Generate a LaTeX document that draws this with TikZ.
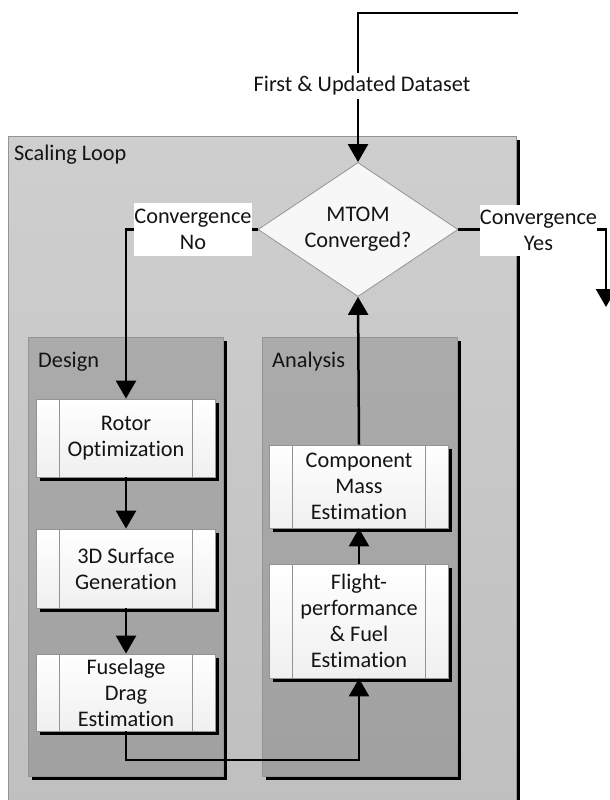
\documentclass[tikz,border=0pt]{standalone}
\usepackage{fontspec}
\setmainfont[Ligatures=NoCommon]{Carlito}
\usetikzlibrary{shapes.geometric,arrows.meta,shadows}
\begin{document}
\begin{tikzpicture}[x=1pt,y=-1pt,
  font=\fontsize{22.3}{26}\selectfont,
  txt/.style={text=black!92},
  conn/.style={line width=2.5pt, draw=black},
  arr/.style={conn, -{Triangle[length=18pt,width=20pt]}},
  shade/.style={drop shadow={shadow xshift=3.5pt,shadow yshift=-3.5pt,fill=black,opacity=1}},
  container/.style={draw=black!42, line width=0.8pt, anchor=north west, inner sep=0pt, shade},
  proc/.style={draw=black!42, line width=0.8pt, top color=white, bottom color=black!6,
    minimum width=179pt, align=center, text=black!92, inner sep=0pt, shade,
    path picture={\draw[black!42,line width=0.8pt]
      ([xshift=23pt]path picture bounding box.north west) -- ([xshift=23pt]path picture bounding box.south west)
      ([xshift=-23pt]path picture bounding box.north east) -- ([xshift=-23pt]path picture bounding box.south east);}},
  lbl/.style={fill=white, align=center, inner sep=0pt, text=black!92},
]
\useasboundingbox (0,0) rectangle (610,800);

% containers
\node[container, top color=black!19, bottom color=black!25, minimum width=508pt, minimum height=672pt] (scaling) at (8,136) {};
\node[container, top color=black!33, bottom color=black!37, minimum width=195pt, minimum height=439pt] (design) at (28,337) {};
\node[container, top color=black!33, bottom color=black!37, minimum width=195pt, minimum height=439pt] (analysis) at (262,337) {};
\node[txt, anchor=west, inner sep=0pt] (scalingT) at (14,155) {Scaling Loop};
\node[txt, anchor=west, inner sep=0pt] (designT) at (38,362) {Design};
\node[txt, anchor=west, inner sep=0pt] (analysisT) at (272,362) {Analysis};

% decision
\node[diamond, draw=black!42, line width=0.8pt, fill=black!3, aspect=1.5,
  minimum width=200pt, minimum height=134pt, inner sep=0pt, align=center, txt] (dia) at (358,229.5) {MTOM\\Converged?};

% process boxes
\node[proc, minimum height=78pt] (rotor) at (126,438) {Rotor\\Optimization};
\node[proc, minimum height=79pt] (surf) at (126,568.5) {3D Surface\\Generation};
\node[proc, minimum height=77pt] (fus) at (126,692.5) {Fuselage\\Drag\\Estimation};
\node[proc, minimum height=83pt] (comp) at (359,486.5) {Component\\Mass\\Estimation};
\node[proc, minimum height=114pt] (flight) at (359,621) {Flight-\\performance\\\& Fuel\\Estimation};

% connectors
\coordinate (topS) at (518,13);
\coordinate (yesEnd) at (606,307);
\coordinate (fb) at (359,760);
\draw[arr] (topS) -| (dia.north);
\draw[arr] (dia.west) -| (rotor.north);
\draw[arr] (dia.east) -| (yesEnd);
\draw[arr] (rotor.south) -- (surf.north);
\draw[arr] (surf.south) -- (fus.north);
\draw[arr] (fus.south) |- (fb) -- (flight.south);
\draw[arr] (flight.north) -- (comp.south);
\draw[arr] (comp.north) -- (dia.south);

% labels on connectors
\node[lbl, inner sep=3pt] (dsL) at (362,86) {First \& Updated Dataset};
\node[lbl, minimum width=116pt, minimum height=53pt] (noL) at (193,229.5) {Convergence\\No};
\node[lbl, minimum width=117pt, minimum height=51pt] (yesL) at (538.5,230.5) {Convergence\\Yes};
\end{tikzpicture}
\end{document}
